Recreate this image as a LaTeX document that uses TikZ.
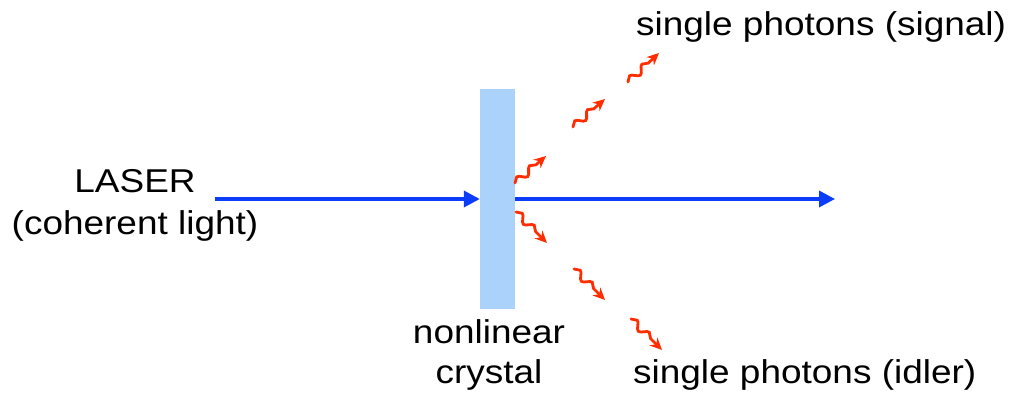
\documentclass[tikz,border=0pt]{standalone}
\usepackage{fontspec}
\setmainfont[FakeStretch=1.12]{Liberation Sans}
\usetikzlibrary{decorations.pathmorphing,arrows.meta}
\definecolor{beamblue}{RGB}{10,60,250}
\definecolor{crystalblue}{RGB}{170,210,250}
\definecolor{photonred}{RGB}{255,45,0}
\tikzset{
  beam/.style={draw=beamblue, line width=3.6pt, -{Triangle[length=16pt,width=16pt]}},
  photon/.style={draw=photonred, line width=2.8pt, line cap=round, -{Stealth[length=12pt,width=11pt]},
    decorate, decoration={snake, amplitude=3.5pt, segment length=17pt, post length=10pt}},
  lbl/.style={font=\fontsize{33}{40}\selectfont, text=black, inner sep=0pt, anchor=base}
}
\begin{document}
\begin{tikzpicture}[x=1pt,y=-1pt]
\useasboundingbox (0,0) rectangle (1014,398);
\node[fill=crystalblue, minimum width=35pt, minimum height=220pt, inner sep=0pt] (crystal) at (497.5,199) {};
\coordinate (laserstart) at (215,199);
\coordinate (beamend) at (835,199);
\draw[beam] (laserstart) -- (crystal.west);
\draw[beam] (crystal.east) -- (beamend);
% photons
\coordinate (u1a) at (515,183); \coordinate (u1b) at (546,156);
\coordinate (u2a) at (573,127); \coordinate (u2b) at (605,99);
\coordinate (u3a) at (628,82);  \coordinate (u3b) at (659,53);
\coordinate (l1a) at (516,212); \coordinate (l1b) at (547,243);
\coordinate (l2a) at (574,269); \coordinate (l2b) at (605,300);
\coordinate (l3a) at (631,319); \coordinate (l3b) at (662,350);
\foreach \a/\b in {u1a/u1b,u2a/u2b,u3a/u3b,l1a/l1b,l2a/l2b,l3a/l3b}
  \draw[photon] (\a) -- (\b);
\node[lbl] (laser) at (135,193) {LASER};
\node[lbl] (coh) at (135,234) {(coherent light)};
\node[lbl] (nonlin) at (489,343) {nonlinear};
\node[lbl] (cryst) at (489,383) {crystal};
\node[lbl, anchor=base west] (signal) at (636,36) {single photons (signal)};
\node[lbl, anchor=base west] (idler) at (633,383) {single photons (idler)};
\end{tikzpicture}
\end{document}
